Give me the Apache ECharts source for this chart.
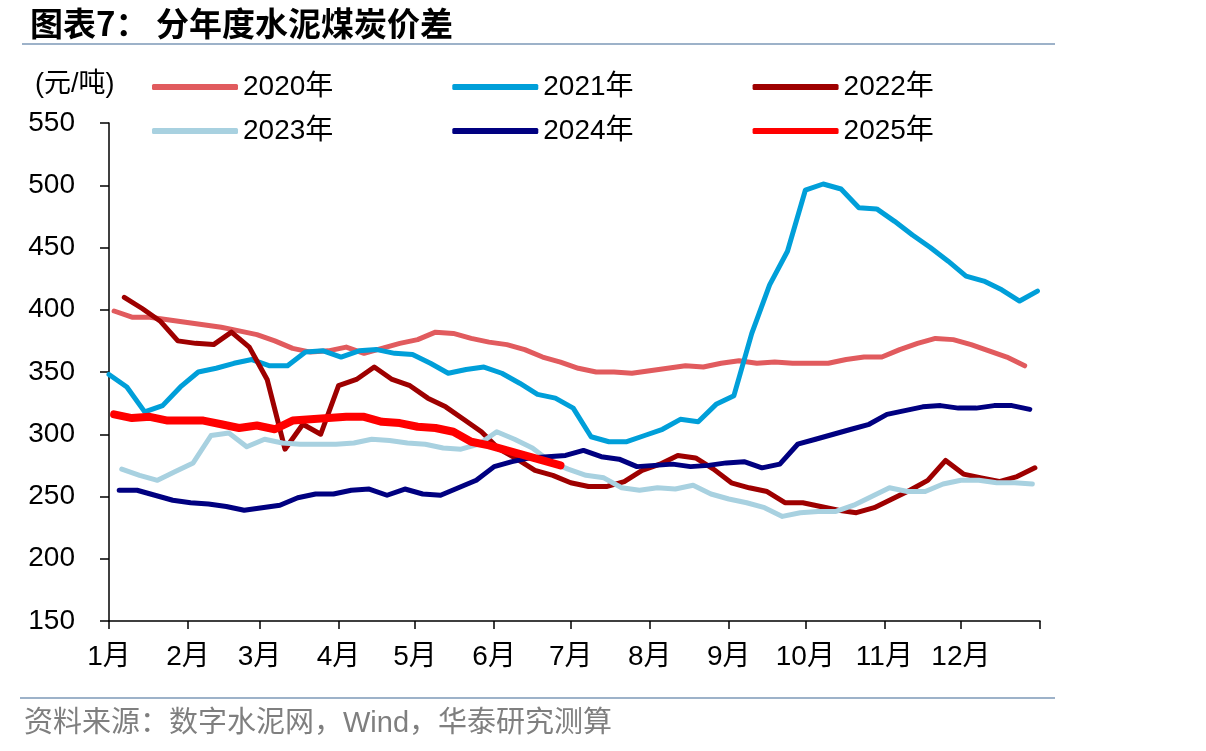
<!DOCTYPE html>
<html>
<head>
<meta charset="UTF-8">
<title>分年度水泥煤炭价差</title>
<script src="https://cdn.jsdelivr.net/npm/echarts@6/dist/echarts.min.js"></script>
</head>
<body style="margin:0;background:#fff">
<div id="main" style="width:1206px;height:751px"></div>
<script>
// 每周数据，x 轴为一年中的天数（0 = 1月1日）
var monthStarts = [0, 31, 59, 90, 120, 151, 181, 212, 243, 273, 304, 334, 365];
var monthLabels = ['1月', '2月', '3月', '4月', '5月', '6月', '7月', '8月', '9月', '10月', '11月', '12月'];

var names = ['2020年', '2021年', '2022年', '2023年', '2024年', '2025年'];
var colors = ['#E15B5E', '#009FD9', '#9E0000', '#A8D1E0', '#000080', '#FF0000'];
var startDays = [2, 0, 6, 5, 4, 2];

var v2020 = [399, 394, 394, 392, 390, 388, 386, 383, 380, 375, 369, 366, 367, 370, 365, 369, 373, 376, 382, 381,
  377, 374, 372, 368, 362, 358, 353, 350, 350, 349, 351, 353, 355, 354, 357, 359, 357, 358, 357, 357,
  357, 360, 362, 362, 368, 373, 377, 376, 372, 367, 362, 355];
var v2021 = [348, 338, 318, 323, 338, 350, 353, 357, 360, 355, 355, 366, 367, 362, 367, 368, 365, 364, 357, 349,
  352, 354, 349, 341, 332, 329, 321, 298, 294, 294, 299, 304, 312, 310, 324, 331, 381, 420, 447, 496,
  501, 497, 482, 481, 471, 460, 450, 439, 427, 423, 416, 407, 415];
var v2022 = [410, 401, 391, 375, 373, 372, 382, 370, 344, 288, 308, 300, 339, 344, 354, 344, 339, 329, 322, 312,
  302, 288, 280, 271, 267, 261, 258, 258, 262, 271, 276, 283, 281, 272, 261, 257, 254, 245, 245, 242,
  239, 237, 241, 248, 255, 263, 279, 268, 265, 262, 266, 273];
var v2023 = [272, 267, 263, 270, 277, 299, 301, 290, 296, 293, 292, 292, 292, 293, 296, 295, 293, 292, 289, 288,
  292, 302, 296, 289, 278, 272, 267, 265, 257, 255, 257, 256, 259, 252, 248, 245, 241, 234, 237, 238,
  238, 243, 250, 257, 254, 254, 260, 263, 263, 261, 261, 260];
var v2024 = [255, 255, 251, 247, 245, 244, 242, 239, 241, 243, 249, 252, 252, 255, 256, 251, 256, 252, 251, 257,
  263, 274, 278, 281, 282, 283, 287, 282, 280, 274, 275, 276, 274, 275, 277, 278, 273, 276, 292, 296,
  300, 304, 308, 316, 319, 322, 323, 321, 321, 323, 323, 320];
var v2025 = [316, 313, 314, 311, 311, 311, 308, 305, 307, 304, 311, 312, 313, 314, 314, 310, 309, 306, 305, 302,
  294, 291, 287, 283, 279, 275];

var values = [v2020, v2021, v2022, v2023, v2024, v2025];

var font = '"Liberation Sans", Arial, "Noto Sans CJK SC", sans-serif';

var myChart = echarts.init(document.getElementById('main'));

var series = names.map(function (name, k) {
  return {
    name: name,
    type: 'line',
    symbol: 'none',
    data: values[k].map(function (v, i) { return [startDays[k] + 7 * i, v]; }),
    itemStyle: { color: colors[k] },
    lineStyle: { width: k === 5 ? 8 : 5, color: colors[k], cap: 'round', join: 'round' },
    z: 2 + k
  };
});

var legendBase = {
  left: 147,
  itemWidth: 86,
  itemHeight: 6,
  itemGap: 119,
  icon: 'roundRect',
  textStyle: { fontSize: 28, fontFamily: font, color: '#000' }
};

option = {
  animation: false,
  title: [
    {
      text: '图表7： 分年度水泥煤炭价差',
      left: 25,
      top: 2,
      textStyle: { fontSize: 33, fontWeight: 'bold', fontFamily: '"Noto Sans CJK SC", sans-serif', color: '#000' }
    },
    {
      text: '(元/吨)',
      left: 30,
      top: 66,
      textStyle: { fontSize: 27, fontWeight: 'normal', fontFamily: font, color: '#000' }
    },
    {
      text: '资料来源：数字水泥网，Wind，华泰研究测算',
      left: 19,
      top: 704,
      textStyle: { fontSize: 29, fontWeight: 'normal', fontFamily: font, color: '#7F7F7F' }
    }
  ],
  graphic: [
    { type: 'line', shape: { x1: 22, y1: 44, x2: 1055, y2: 44 }, style: { stroke: '#9DB2C9', lineWidth: 2 } },
    { type: 'line', shape: { x1: 20, y1: 698, x2: 1055, y2: 698 }, style: { stroke: '#9DB2C9', lineWidth: 2 } }
  ],
  legend: [
    Object.assign({ top: 68, data: names.slice(0, 3) }, legendBase),
    Object.assign({ top: 112, data: names.slice(3) }, legendBase)
  ],
  grid: { left: 109, right: 166, top: 123, bottom: 130 },
  xAxis: {
    type: 'value',
    min: 0,
    max: 365,
    splitLine: { show: false },
    axisLine: { lineStyle: { color: '#000', width: 1.5 } },
    axisTick: { show: true, length: 8, customValues: monthStarts, lineStyle: { color: '#000', width: 1.5 } },
    axisLabel: {
      customValues: monthStarts.slice(0, 12),
      margin: 22,
      fontSize: 28,
      fontFamily: font,
      color: '#000',
      formatter: function (val) {
        return monthLabels[monthStarts.indexOf(val)];
      }
    }
  },
  yAxis: {
    type: 'value',
    min: 150,
    max: 550,
    interval: 50,
    splitLine: { show: false },
    axisLine: { show: true, lineStyle: { color: '#000', width: 1.5 } },
    axisTick: { show: true, length: 9, lineStyle: { color: '#000', width: 1.5 } },
    axisLabel: { margin: 34, fontSize: 28, fontFamily: font, color: '#000' }
  },
  series: series
};

myChart.setOption(option);
</script>
</body>
</html>
